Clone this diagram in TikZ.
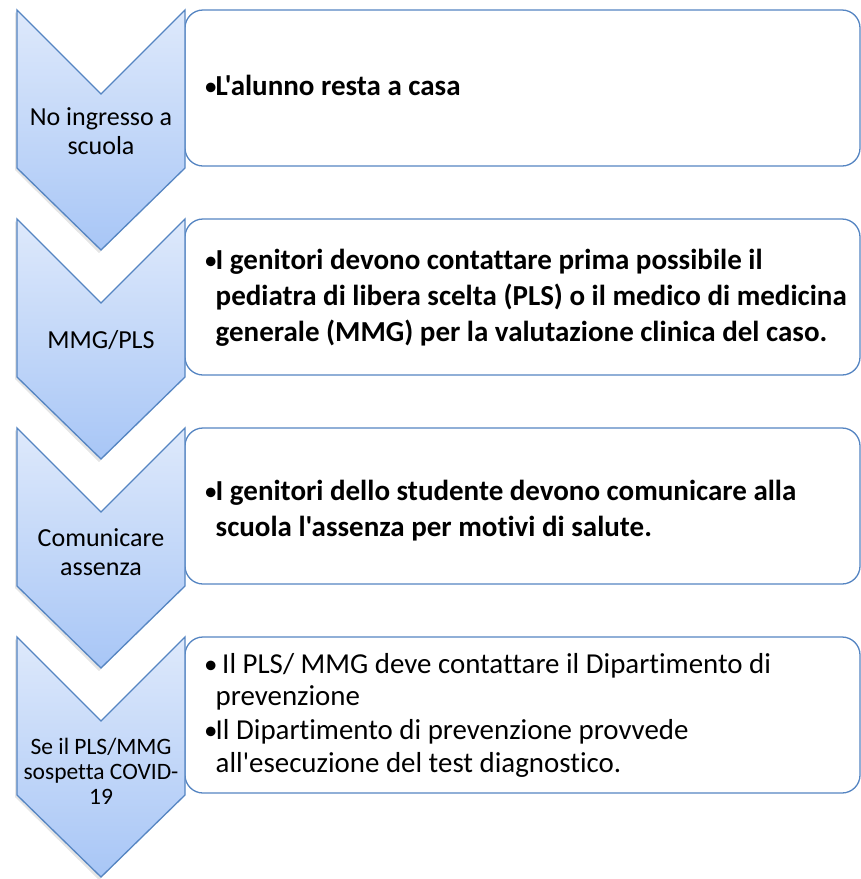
\documentclass[tikz,border=0pt]{standalone}
\usepackage{fontspec}
\setmainfont{Carlito}[Ligatures={TeXOff,CommonOff}]
\definecolor{cstroke}{HTML}{5585C2}
\definecolor{ctop}{HTML}{DEE9FB}
\definecolor{cbot}{HTML}{A8C6F6}
\tikzset{
  chevshape/.style={draw=cstroke, line width=1.3pt, top color=ctop, bottom color=cbot, line join=miter},
  boxshape/.style={draw=cstroke, line width=1.3pt, fill=white, rounded corners=18pt},
  chevlabel/.style={inner sep=0pt, align=center, font=\fontsize{26}{29}\selectfont},
  chevlabelsmall/.style={inner sep=0pt, align=center, font=\fontsize{23.5}{25}\selectfont},
  boldtxt/.style={inner sep=0pt, anchor=west, font=\fontsize{29}{36}\selectfont\bfseries},
  plaintxt/.style={inner sep=0pt, anchor=west, font=\fontsize{28.9}{32.5}\selectfont},
}
\newcommand{\bul}{\makebox[11.5pt][l]{\fontsize{27}{27}\selectfont\mdseries •}}
\begin{document}
\begin{tikzpicture}[x=1pt,y=-1pt]
\useasboundingbox (0,0) rectangle (861,879);
\clip (0,0) rectangle (861,879);
\fill[white] (0,0) rectangle (861,879);
% boxes
\foreach \t in {10,219,428,637}{
  \draw[boxshape] (185,\t) -- (860,\t) -- (860,\t+156) -- (185,\t+156) -- cycle;
}
% chevrons
\foreach \t in {10,219,428,637}{
  \fill[black, opacity=0.10] (15,\t+2) -- (99,\t+86) -- (183,\t+2) -- (183,\t+160) -- (99,\t+243) -- (15,\t+160) -- cycle;
  \draw[chevshape] (17,\t) -- (101,\t+84) -- (185,\t) -- (185,\t+158) -- (101,\t+240) -- (17,\t+158) -- cycle;
}
% chevron labels
\node[chevlabel] (c1) at (101,131) {No ingresso a\\scuola};
\node[chevlabel] (c2) at (101,340) {MMG/PLS};
\node[chevlabel] (c3) at (101,552) {Comunicare\\assenza};
\node[chevlabelsmall] (c4) at (101,771) {Se il PLS/MMG\\sospetta COVID-\\19};
% box texts
\node[boldtxt] (t1) at (204,88) {\begin{tabular}{@{}l@{}l@{}}\bul&L'alunno resta a casa\end{tabular}};
\node[boldtxt] (t2) at (204,298) {\begin{tabular}{@{}l@{}l@{}}\bul&I genitori devono contattare prima possibile il\\&pediatra di libera scelta (PLS) o il medico di medicina\\&generale (MMG) per la valutazione clinica del caso.\end{tabular}};
\node[boldtxt] (t3) at (204,511) {\begin{tabular}{@{}l@{}l@{}}\bul&I genitori dello studente devono comunicare alla\\&scuola l'assenza per motivi di salute.\end{tabular}};
\node[plaintxt] (t4) at (204,716) {\begin{tabular}{@{}l@{}l@{}}\bul&\ Il PLS/ MMG deve contattare il Dipartimento di\\&prevenzione\\[1.5pt]\bul&Il Dipartimento di prevenzione provvede\\&all'esecuzione del test diagnostico.\end{tabular}};
\end{tikzpicture}
\end{document}
